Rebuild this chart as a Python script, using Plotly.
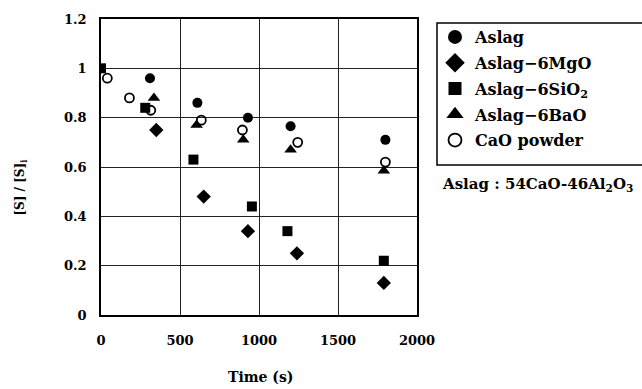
import plotly.graph_objects as go

# Data (time in s, [S]/[S]i)
aslag_t = [310, 610, 930, 1200, 1800]
aslag_v = [0.96, 0.86, 0.80, 0.765, 0.71]

mgo_t = [350, 650, 930, 1240, 1790]
mgo_v = [0.75, 0.48, 0.34, 0.25, 0.13]

sio2_t = [0, 280, 585, 955, 1180, 1790]
sio2_v = [1.0, 0.84, 0.63, 0.44, 0.34, 0.22]

bao_t = [335, 605, 900, 1200, 1790]
bao_v = [0.88, 0.77, 0.71, 0.67, 0.585]

cao_t = [40, 180, 315, 635, 895, 1245, 1800]
cao_v = [0.96, 0.88, 0.83, 0.79, 0.75, 0.70, 0.62]

series_names = ["Aslag", "Aslag\u22126MgO", "Aslag\u22126SiO<sub>2</sub>",
                "Aslag\u22126BaO", "CaO powder"]

x_ticks = [0, 500, 1000, 1500, 2000]
y_ticks = [0, 0.2, 0.4, 0.6, 0.8, 1.0, 1.2]
y_tick_labels = ["0", "0.2", "0.4", "0.6", "0.8", "1", "1.2"]

FONT = "DejaVu Serif, Liberation Serif, serif"

fig = go.Figure()
styles = [
    ("circle", 10, 14, 0),
    ("diamond", 11, 15, 0),
    ("square", 10, 13, 0),
    ("triangle-up", 11, 15, 0),
    ("circle-open", 9, 13, 1.8),
]
datasets = [(aslag_t, aslag_v), (mgo_t, mgo_v), (sio2_t, sio2_v),
            (bao_t, bao_v), (cao_t, cao_v)]
for i, (name, (xs, ys), (sym, size, lsize, lw)) in enumerate(zip(series_names, datasets, styles)):
    fig.add_trace(go.Scatter(
        x=xs, y=ys, mode="markers", name=name, legendgroup=f"g{i}",
        showlegend=False,
        marker=dict(symbol=sym, size=size, color="black",
                    line=dict(width=lw, color="black")),
    ))
    # legend entry with larger symbol
    fig.add_trace(go.Scatter(
        x=[None], y=[None], mode="markers", name=name, legendgroup=f"g{i}",
        marker=dict(symbol=sym, size=lsize, color="black",
                    line=dict(width=lw, color="black")),
    ))

fig.update_layout(
    width=642, height=389,
    margin=dict(l=101, r=225, t=13, b=74),
    paper_bgcolor="white", plot_bgcolor="white",
    font=dict(family=FONT, size=13, color="black", weight="bold"),
    showlegend=True,
    legend=dict(
        x=(435 - 101) / 316, y=(315 - 14) / 302, xanchor="left", yanchor="top",
        borderwidth=0, bgcolor="rgba(0,0,0,0)",
        font=dict(family=FONT, size=16, weight="bold"),
        tracegroupgap=2, itemwidth=30,
    ),
    shapes=[
        dict(type="rect", xref="paper", yref="paper",
             x0=(437 - 101) / 316, x1=(650 - 101) / 316,
             y0=(315 - 162) / 302, y1=(315 - 17) / 302,
             line=dict(color="black", width=1.5)),
    ],
    annotations=[
        dict(text="Aslag : 54CaO-46Al<sub>2</sub>O<sub>3</sub>",
             x=(440 - 101) / 316, y=(315 - 182) / 302, xref="paper", yref="paper",
             xanchor="left", yanchor="middle", showarrow=False,
             font=dict(family=FONT, size=15, weight="bold")),
        dict(text="[S] / [S]<sub>i</sub>", x=(21 - 101) / 316, y=(315 - 185) / 302,
             xref="paper", yref="paper", xanchor="center", yanchor="middle",
             showarrow=False, textangle=-90,
             font=dict(family=FONT, size=12, weight="bold")),
        dict(text="Time (s)", x=(260 - 101) / 316, y=(315 - 378) / 302,
             xref="paper", yref="paper",
             xanchor="center", yanchor="middle", showarrow=False,
             font=dict(family=FONT, size=14, weight="bold")),
    ],
)

fig.update_xaxes(
    range=[0, 2000], tickvals=x_ticks, ticks="", ticklabelstandoff=13,
    showgrid=True, gridcolor="#222", gridwidth=1,
    showline=True, linecolor="black", linewidth=1.5, mirror=True,
    zeroline=False,
)
fig.update_yaxes(
    range=[0, 1.2], tickvals=y_ticks, ticktext=y_tick_labels, ticks="",
    ticklabelstandoff=10,
    showgrid=True, gridcolor="#222", gridwidth=1,
    showline=True, linecolor="black", linewidth=1.5, mirror=True,
    zeroline=False,
)

fig.write_html("out.html")
